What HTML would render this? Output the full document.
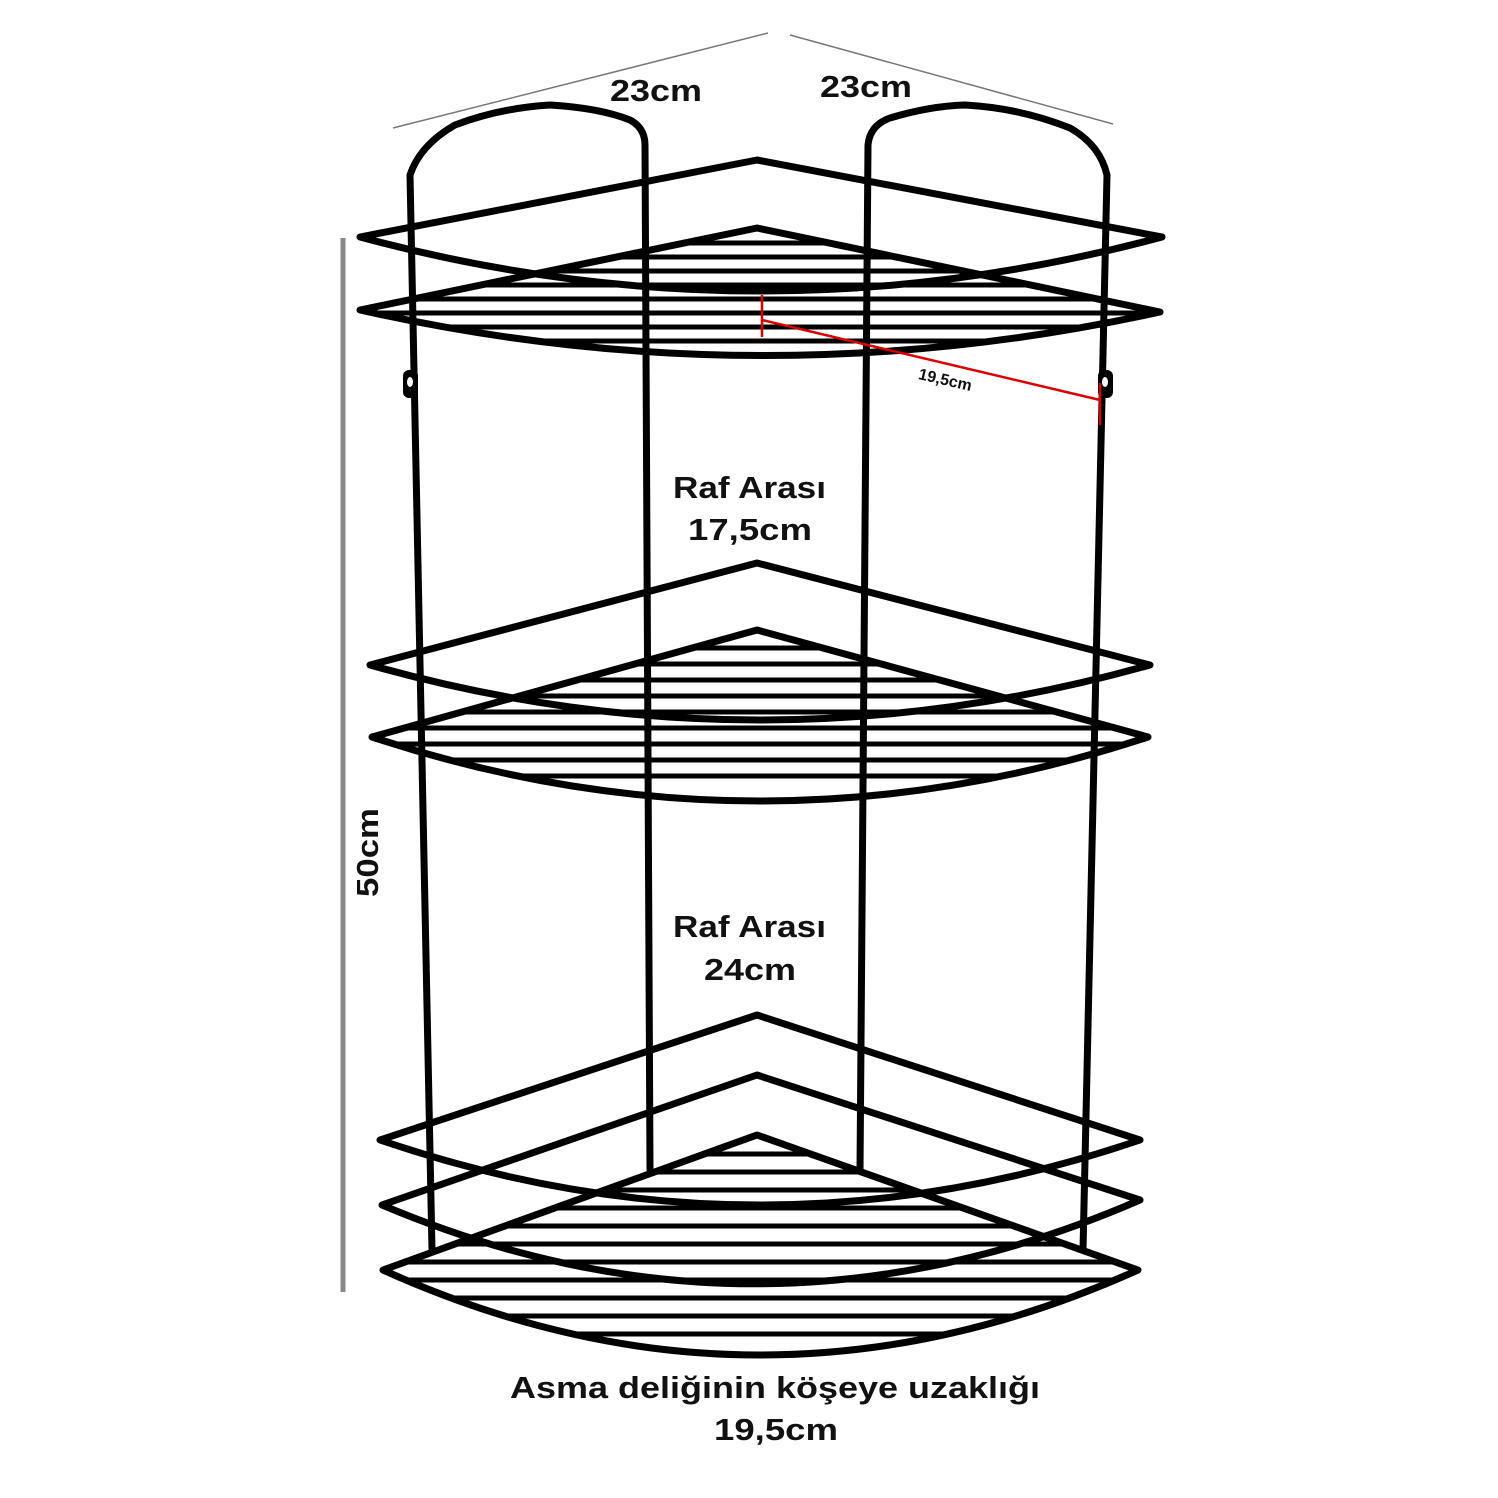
<!DOCTYPE html>
<html><head><meta charset="utf-8"><style>
html,body{margin:0;padding:0;background:#fff;}
svg{display:block;}
text{font-family:"Liberation Sans",sans-serif;font-weight:bold;fill:#111;}
</style></head><body>
<svg width="1498" height="1498" viewBox="0 0 1498 1498" xmlns="http://www.w3.org/2000/svg">
<defs>
<clipPath id="c1"><path d="M360,310 L757,228 L1160,312 Q760,400 360,310Z"/></clipPath>
<clipPath id="c2"><path d="M372,737 L757,630 L1148,737 Q760,865 372,737Z"/></clipPath>
<clipPath id="c3"><path d="M383,1270 L757,1135 L1138,1270 Q760,1440 383,1270Z"/></clipPath>
</defs>
<line x1="393" y1="128" x2="768" y2="33" stroke="#777" stroke-width="1.5"/>
<line x1="790" y1="35" x2="1113" y2="124" stroke="#777" stroke-width="1.5"/>
<text x="610" y="101" font-size="31" textLength="92" lengthAdjust="spacingAndGlyphs">23cm</text>
<text x="820" y="97" font-size="31" textLength="92" lengthAdjust="spacingAndGlyphs">23cm</text>
<line x1="343" y1="238" x2="343" y2="1292" stroke="#888" stroke-width="5"/>
<text transform="translate(378,897) rotate(-90)" font-size="31" textLength="89" lengthAdjust="spacingAndGlyphs">50cm</text>

<g fill="none" stroke="#000" stroke-width="7" stroke-linejoin="round" stroke-linecap="round">
<path d="M432,1250 L410,175 Q420,145 455,125 Q500,108 550,105 Q600,108 630,120 Q645,128 645,145 L650,1170"/>
<path d="M860,1170 L868,145 Q870,125 890,118 Q930,106 965,105 Q1020,108 1070,128 Q1100,145 1107,175 L1083,1250"/>
<path d="M360,237 L757,160 L1162,237 Q760,345 360,237Z"/>
<path d="M360,310 L757,228 L1160,312 Q760,400 360,310Z"/>
<path d="M370,665 L757,563 L1150,665 Q760,775 370,665Z"/>
<path d="M372,737 L757,630 L1148,737 Q760,865 372,737Z"/>
<path d="M380,1140 L757,1015 L1140,1140 Q760,1270 380,1140Z"/>
<path d="M382,1205 L757,1075 L1140,1200 Q760,1365 382,1205Z"/>
<path d="M383,1270 L757,1135 L1138,1270 Q760,1440 383,1270Z"/>
</g>
<g stroke="#000" stroke-width="5">
<g clip-path="url(#c1)">
<line x1="300" x2="1200" y1="243" y2="243"/><line x1="300" x2="1200" y1="257" y2="257"/><line x1="300" x2="1200" y1="271" y2="271"/><line x1="300" x2="1200" y1="285" y2="285"/><line x1="300" x2="1200" y1="299" y2="299"/><line x1="300" x2="1200" y1="313" y2="313"/><line x1="300" x2="1200" y1="327" y2="327"/><line x1="300" x2="1200" y1="341" y2="341"/>
</g>
<g clip-path="url(#c2)">
<line x1="300" x2="1200" y1="648" y2="648"/><line x1="300" x2="1200" y1="664" y2="664"/><line x1="300" x2="1200" y1="680" y2="680"/><line x1="300" x2="1200" y1="696" y2="696"/><line x1="300" x2="1200" y1="712" y2="712"/><line x1="300" x2="1200" y1="728" y2="728"/><line x1="300" x2="1200" y1="744" y2="744"/><line x1="300" x2="1200" y1="760" y2="760"/><line x1="300" x2="1200" y1="776" y2="776"/>
</g>
<g clip-path="url(#c3)">
<line x1="300" x2="1200" y1="1154" y2="1154"/><line x1="300" x2="1200" y1="1172" y2="1172"/><line x1="300" x2="1200" y1="1190" y2="1190"/><line x1="300" x2="1200" y1="1208" y2="1208"/><line x1="300" x2="1200" y1="1226" y2="1226"/><line x1="300" x2="1200" y1="1244" y2="1244"/><line x1="300" x2="1200" y1="1262" y2="1262"/><line x1="300" x2="1200" y1="1280" y2="1280"/><line x1="300" x2="1200" y1="1298" y2="1298"/><line x1="300" x2="1200" y1="1316" y2="1316"/><line x1="300" x2="1200" y1="1334" y2="1334"/>
</g>
</g>
<rect x="403" y="370" width="15" height="28" rx="6" fill="#000"/>
<ellipse cx="410" cy="382" rx="3" ry="5" fill="#fff"/>
<rect x="1098" y="370" width="15" height="28" rx="6" fill="#000"/>
<ellipse cx="1105" cy="382" rx="3" ry="5" fill="#fff"/>
<g stroke="#d00" stroke-width="2.5">
<line x1="762" y1="320" x2="1100" y2="400"/>
<line x1="762" y1="295" x2="762" y2="337"/>
<line x1="1100" y1="383" x2="1100" y2="425"/>
</g>
<text transform="translate(944,385) rotate(13)" font-size="16" text-anchor="middle">19,5cm</text>
<text x="673" y="498" font-size="31" textLength="153" lengthAdjust="spacingAndGlyphs">Raf Arası</text>
<text x="688" y="540" font-size="31" textLength="124" lengthAdjust="spacingAndGlyphs">17,5cm</text>
<text x="673" y="937" font-size="31" textLength="153" lengthAdjust="spacingAndGlyphs">Raf Arası</text>
<text x="704" y="980" font-size="31" textLength="92" lengthAdjust="spacingAndGlyphs">24cm</text>
<text x="510" y="1398" font-size="31" textLength="530" lengthAdjust="spacingAndGlyphs">Asma deliğinin köşeye uzaklığı</text>
<text x="714" y="1440" font-size="31" textLength="124" lengthAdjust="spacingAndGlyphs">19,5cm</text>
</svg>
</body></html>
